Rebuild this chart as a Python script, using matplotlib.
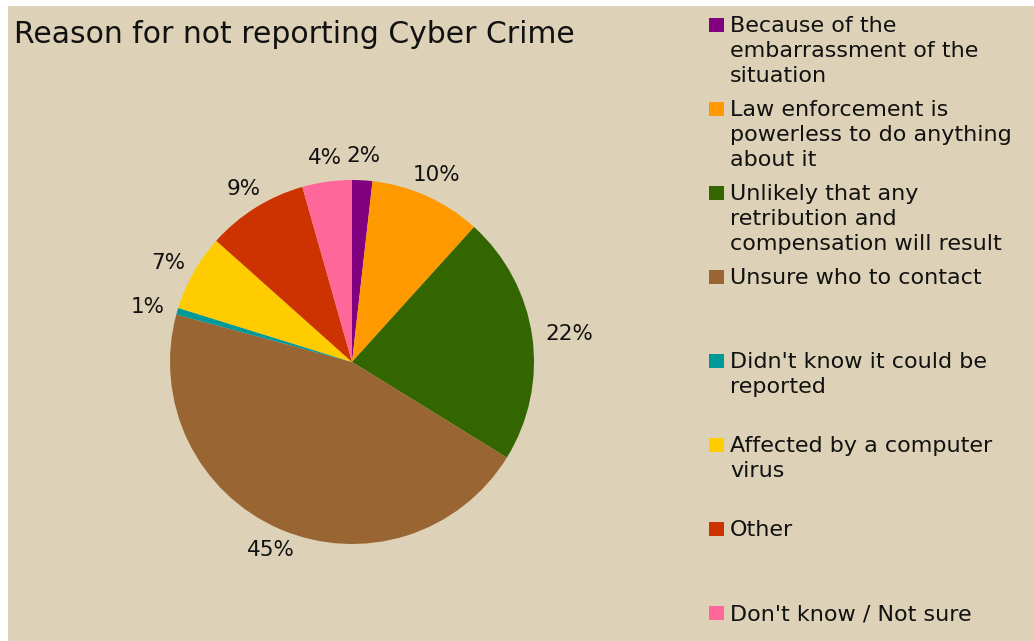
import matplotlib
matplotlib.use('Agg')
import numpy as np
import matplotlib.pyplot as plt
from matplotlib.patches import Rectangle

# Dane wykresu
title = 'Reason for not reporting Cyber Crime'
categories = [
    'Because of the\nembarrassment of the\nsituation',
    'Law enforcement is\npowerless to do anything\nabout it',
    'Unlikely that any\nretribution and\ncompensation will result',
    'Unsure who to contact',
    "Didn't know it could be\nreported",
    'Affected by a computer\nvirus',
    'Other',
    "Don't know / Not sure",
]
shares = [1.8, 9.9, 22.1, 45.4, 0.6, 6.8, 9.0, 4.4]
colors = ['#800080', '#ff9900', '#336600', '#996633',
          '#009999', '#ffcc00', '#cc3300', '#ff6699']

BG = '#ddd2b7'
W, H = 1034, 641

fig = plt.figure(figsize=(W / 100, H / 100), dpi=100, facecolor='white')

# tlo wykresu (bialy margines z lewej i u gory)
fig.patches.append(Rectangle((8 / W, 0), 1, (H - 6) / H, transform=fig.transFigure,
                             facecolor=BG, edgecolor='none', zorder=-5))

# os kolowa: srodek (352, 362), promien 182 px
cx, cy, r = 352, 362, 182
ax = fig.add_axes([(cx - r) / W, (H - cy - r) / H, 2 * r / W, 2 * r / H])
ax.set_facecolor('none')
wedges, _, autotexts = ax.pie(shares, colors=colors, startangle=90, counterclock=False,
                              autopct='%.0f%%', pctdistance=1.17,
                              wedgeprops=dict(linewidth=0),
                              textprops=dict(fontsize=15.5, color='#111111'))
ax.set_xlim(-1, 1)
ax.set_ylim(-1, 1)
ax.set_aspect('equal')

# etykiety na zewnatrz - brzeg tekstu w stalej odleglosci od kola (jak w Excelu)
fig.canvas.draw()
renderer = fig.canvas.get_renderer()
gap = 14.0
for w, t in zip(wedges, autotexts):
    ang = np.deg2rad((w.theta1 + w.theta2) / 2)
    ux, uy = np.cos(ang), np.sin(ang)
    bb = t.get_window_extent(renderer)
    half_w, half_h = bb.width / 2, 10.0
    d = r + gap
    px = d * ux + half_w * ux * abs(ux)
    py = d * uy + half_h * uy * abs(uy)
    t.set_position((px / r, py / r))
    t.set_ha('center')
    t.set_va('center')

fig.text(14 / W, (H - 43) / H, title, fontsize=21.5, color='#111111',
         ha='left', va='baseline')

# legenda rysowana recznie - rowne odstepy miedzy wpisami
leg_top = 25
leg_step = 84.0
for i, (lab, col) in enumerate(zip(categories, colors)):
    yc = leg_top + i * leg_step
    fig.patches.append(Rectangle((709 / W, (H - yc - 7) / H), 15 / W, 14 / H,
                                 transform=fig.transFigure, facecolor=col,
                                 edgecolor='none', zorder=2))
    fig.text(730 / W, (H - yc + 9) / H, lab, fontsize=16, color='#111111',
             ha='left', va='top', linespacing=1.3,
             transform=fig.transFigure)

fig.savefig('out.png', dpi=100, facecolor='white')
